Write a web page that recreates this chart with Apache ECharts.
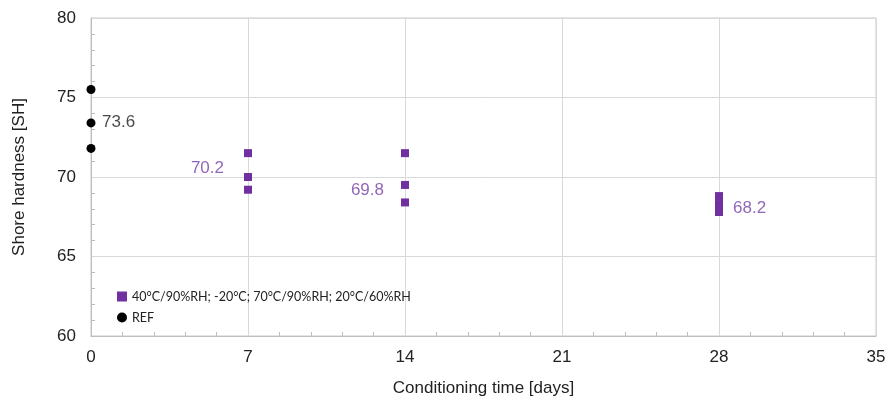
<!DOCTYPE html>
<html><head><meta charset="utf-8">
<script src="https://cdn.jsdelivr.net/npm/echarts@6/dist/echarts.min.js"></script>
<style>html,body{margin:0;padding:0;background:#fff}#c{width:889px;height:399px}</style>
</head><body><div id="c"></div>
<script>
const xTicks = [0, 7, 14, 21, 28, 35];
const yTicks = [60, 65, 70, 75, 80];
const condName = '40°C/90%RH; -20°C; 70°C/90%RH; 20°C/60%RH';
const refName = 'REF';
const condDays = [7, 7, 7, 14, 14, 14, 28, 28, 28];
const condValues = [71.5, 70.0, 69.2, 71.5, 69.5, 68.4, 68.8, 68.3, 67.8];
const refDays = [0, 0, 0];
const refValues = [75.5, 73.4, 71.8];
const meanDays = [0, 7, 14, 28];
const meanValues = [73.6, 70.2, 69.8, 68.2];

const meanLabelStyle = [
  {position: 'right', distance: 11, offset: [0, 3], color: '#1a1a1a'},
  {position: 'left', distance: 24, offset: [0, -6], color: '#7440a6'},
  {position: 'left', distance: 21, offset: [0, 10], color: '#7440a6'},
  {position: 'right', distance: 14, offset: [0, 3], color: '#7440a6'}
];

const chart = echarts.init(document.getElementById('c'), null, {renderer: 'canvas'});
const axisFont = 'Liberation Sans, Arial, sans-serif';
chart.setOption({
  animation: false,
  backgroundColor: '#fff',
  grid: {left: 91, right: 13, top: 18, bottom: 63, show: true, borderColor: '#c8c8c8', borderWidth: 1,
         containLabel: false, outerBoundsMode: 'none'},
  legend: {
    orient: 'vertical', left: 112, top: 285, itemGap: 8, itemWidth: 10, itemHeight: 10,
    textStyle: {fontFamily: 'Lato, Open Sans, sans-serif', fontSize: 12.5, color: '#222'},
    data: [{name: condName, icon: 'rect'}, {name: refName, icon: 'circle'}]
  },
  xAxis: {
    type: 'value', min: xTicks[0], max: xTicks[xTicks.length - 1], interval: 7,
    name: 'Conditioning time [days]', nameLocation: 'middle', nameGap: 44,
    nameTextStyle: {fontFamily: axisFont, fontSize: 17, color: '#222'},
    axisLine: {show: true, lineStyle: {color: '#bdbdbd'}},
    axisTick: {show: false, inside: true},
    minorTick: {show: true, splitNumber: 5, length: 4, lineStyle: {color: '#bdbdbd'}},
    axisLabel: {fontFamily: axisFont, fontSize: 17, color: '#222', margin: 13},
    splitLine: {show: true, lineStyle: {color: '#d9d9d9'}}
  },
  yAxis: {
    type: 'value', min: yTicks[0], max: yTicks[yTicks.length - 1], interval: 5,
    name: 'Shore hardness [SH]', nameLocation: 'middle', nameGap: 63,
    nameTextStyle: {fontFamily: axisFont, fontSize: 17, color: '#222'},
    axisLine: {show: true, lineStyle: {color: '#bdbdbd'}},
    axisTick: {show: false, inside: true},
    minorTick: {show: true, splitNumber: 5, length: 4, lineStyle: {color: '#bdbdbd'}},
    axisLabel: {fontFamily: axisFont, fontSize: 17, color: '#222', margin: 15},
    splitLine: {show: true, lineStyle: {color: '#d9d9d9'}}
  },
  series: [
    {
      name: condName, type: 'scatter', symbol: 'rect', symbolSize: 8,
      itemStyle: {color: '#7030a0', opacity: 1},
      data: condDays.map((d, i) => [d, condValues[i]])
    },
    {
      name: refName, type: 'scatter', symbol: 'circle', symbolSize: 9,
      itemStyle: {color: '#000', opacity: 1},
      data: refDays.map((d, i) => [d, refValues[i]])
    },
    {
      name: 'mean', type: 'scatter', symbolSize: 0, silent: true,
      data: meanDays.map((d, i) => ({
        value: [d, meanValues[i]],
        label: Object.assign({show: true, fontFamily: axisFont, fontSize: 17,
          formatter: meanValues[i].toFixed(1)}, meanLabelStyle[i])
      }))
    }
  ]
});
</script></body></html>
